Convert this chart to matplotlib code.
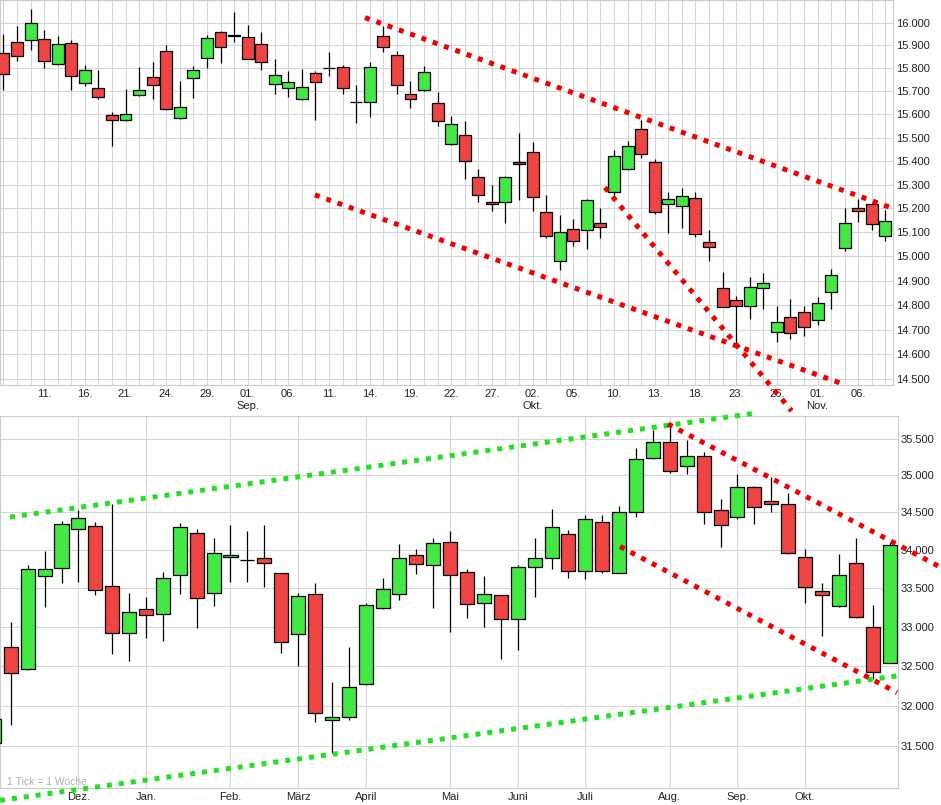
import numpy as np
import matplotlib
matplotlib.use("Agg")
import matplotlib.pyplot as plt
from matplotlib.ticker import FixedLocator, NullLocator, FuncFormatter

plt.rcParams['font.family'] = ['Liberation Sans', 'DejaVu Sans']

GREEN = '#44e844'
RED = '#ee4444'
GRID = '#d6d6d6'
TREND_RED = '#f20000'
TREND_GREEN = '#22e022'

# ---- daily candles (upper panel), one per trading day ----
day_open = [15867, 15914, 15922, 15928, 15820, 15910, 15737, 15714, 15597, 15576,
            15682, 15761, 15877, 15584, 15757, 15845, 15959, 15939, 15937, 15906,
            15732, 15714, 15664, 15779, 15800, 15805, 15651, 15653, 15943, 15859,
            15688, 15703, 15649, 15473, 15511, 15332, 15226, 15226, 15396, 15439,
            15185, 14979, 15113, 15108, 15141, 15271, 15366, 15537, 15398, 15220,
            15211, 15244, 15059, 14869, 14821, 14797, 14869, 14692, 14753, 14771,
            14738, 14853, 15034, 15201, 15220, 15085]
day_high = [15950, 15987, 16062, 15966, 15940, 15925, 15815, 15793, 15612, 15709,
            15804, 15826, 15900, 15743, 15808, 15947, 15961, 16045, 15988, 15959,
            15842, 15786, 15798, 15786, 15872, 15815, 15728, 15828, 15987, 15874,
            15746, 15811, 15696, 15594, 15573, 15365, 15299, 15336, 15519, 15480,
            15257, 15172, 15155, 15240, 15201, 15448, 15487, 15574, 15408, 15271,
            15285, 15271, 15108, 14937, 14837, 14916, 14933, 14797, 14824, 14797,
            14831, 14948, 15203, 15239, 15223, 15192]
day_low = [15703, 15830, 15878, 15801, 15815, 15703, 15724, 15664, 15466, 15570,
           15678, 15668, 15617, 15580, 15671, 15801, 15823, 15913, 15838, 15793,
           15689, 15674, 15662, 15574, 15767, 15689, 15563, 15588, 15872, 15689,
           15627, 15699, 15548, 15470, 15325, 15226, 15191, 15138, 15236, 15191,
           15076, 14944, 15044, 15032, 15076, 15249, 15360, 15413, 15177, 15099,
           15118, 15079, 14982, 14792, 14645, 14745, 14784, 14651, 14661, 14676,
           14718, 14783, 15024, 15144, 15108, 15066]
day_close = [15776, 15852, 15999, 15830, 15906, 15764, 15790, 15676, 15577, 15601,
             15706, 15727, 15623, 15632, 15793, 15933, 15893, 15947, 15841, 15828,
             15770, 15740, 15719, 15740, 15800, 15714, 15651, 15805, 15893, 15726,
             15667, 15784, 15570, 15558, 15402, 15256, 15218, 15331, 15387, 15250,
             15083, 15101, 15066, 15236, 15123, 15422, 15463, 15428, 15184, 15239,
             15252, 15093, 15041, 14793, 14797, 14875, 14890, 14730, 14685, 14711,
             14807, 14924, 15141, 15189, 15133, 15149]
day_labels = ['11.', '16.', '21.', '24.', '29.', '01.\nSep.', '06.', '11.', '14.', '19.',
              '22.', '27.', '02.\nOkt.', '05.', '10.', '13.', '18.', '23.', '26.',
              '01.\nNov.', '06.']
day_label_pos = list(range(3, 66, 3))
day_yticks = list(range(14500, 16001, 100))

# trend lines: (start index, start value, end index, end value)
day_trends = [(26.65, 16022, 65.56, 15200),
              (22.96, 15257, 61.87, 14481),
              (44.33, 15288, 58.09, 14374)]

# ---- weekly candles (lower panel), first one only partly visible ----
week_open = [31540, 32742, 32453, 33660, 33757, 34281, 34321, 33525, 32911, 33222,
             33157, 33669, 34220, 33430, 33900, 33865, 33888, 33690, 32898, 33421,
             31816, 31862, 32264, 33234, 33417, 33930, 33796, 34108, 33712, 33304,
             33404, 33092, 33770, 33889, 34210, 33720, 34370, 33700, 34500, 35236,
             35463, 35130, 35271, 34531, 34433, 34837, 34650, 34610, 33900, 33456,
             33265, 33822, 32990, 32529]
week_high = [31840, 33062, 33800, 33988, 34380, 34535, 34375, 34610, 33437, 33376,
             33705, 34354, 34273, 34163, 34331, 34255, 34331, 33700, 33430, 33567,
             32296, 32741, 33300, 33634, 34074, 34010, 34162, 34250, 33744, 33659,
             33404, 33803, 34156, 34550, 34264, 34467, 34467, 34590, 35372, 35626,
             35718, 35486, 35326, 34680, 35021, 34850, 34980, 34760, 34006, 33560,
             33943, 34154, 33275, 34108]
week_low = [31540, 31758, 32445, 33256, 33560, 33580, 33408, 32648, 32562, 32848,
            32818, 33421, 32977, 33265, 33580, 33580, 33516, 32657, 32499, 31789,
            31410, 31816, 32260, 33225, 33343, 33677, 33234, 32935, 33104, 32998,
            32584, 32700, 33380, 33744, 33625, 33620, 33700, 33690, 34433, 35220,
            35030, 35017, 34350, 34033, 34410, 34340, 34510, 33945, 33304, 32877,
            33252, 33110, 32327, 32529]
week_close = [31830, 32403, 33744, 33744, 34345, 34425, 33473, 32911, 33190, 33148,
              33626, 34300, 33365, 33962, 33930, 33865, 33822, 32805, 33394, 31903,
              31857, 32226, 33275, 33482, 33888, 33809, 34095, 33664, 33297, 33417,
              33092, 33770, 33889, 34302, 33717, 34413, 33720, 34500, 35220, 35455,
              35060, 35271, 34500, 34337, 34837, 34577, 34610, 33955, 33508, 33404,
              33668, 33118, 32416, 34064]
month_labels = ['Dez.', 'Jan.', 'Feb.', 'März', 'April', 'Mai', 'Juni', 'Juli', 'Aug.', 'Sep.', 'Okt.']
month_pos = [4, 8, 13, 17, 21, 26, 30, 34, 39, 43, 47]
week_yticks = list(range(31500, 35501, 500))

week_trends_green = [(-0.05, 34437, 43.86, 35853),
                     (-0.64, 30839, 52.49, 32373)]
week_trends_red = [(38.89, 35708, 55.04, 33769),
                   (36.05, 34044, 52.44, 32162)]


def thousands(v, _pos=None):
    return f"{v:,.0f}".replace(',', '.')


def draw_candles(ax, xs, opens, highs, lows, closes, width):
    opens = np.asarray(opens, float)
    closes = np.asarray(closes, float)
    colors = np.where(closes >= opens, GREEN, RED)
    ax.vlines(xs, lows, highs, color='black', linewidth=0.9, zorder=2)
    ax.bar(xs, np.abs(closes - opens), width, bottom=np.minimum(opens, closes),
           color=colors, edgecolor='black', linewidth=0.9, zorder=3)


def draw_trends(ax, trends, color):
    for x0, y0, x1, y1 in trends:
        ax.plot([x0, x1], [y0, y1], color=color, linewidth=3.6,
                linestyle=(0, (1, 1.4)), dash_capstyle='butt',
                solid_capstyle='butt', zorder=5, clip_on=False)


def style_axis(ax, yticks):
    ax.set_yscale('log')
    ax.yaxis.tick_right()
    ax.yaxis.set_major_locator(FixedLocator(yticks))
    ax.yaxis.set_major_formatter(FuncFormatter(thousands))
    ax.yaxis.set_minor_locator(NullLocator())
    ax.tick_params(axis='both', which='both', length=0, labelsize=8, colors='#222222')
    ax.tick_params(axis='y', pad=2)
    ax.tick_params(axis='x', pad=3)
    for sp in ax.spines.values():
        sp.set_color('#cccccc')
        sp.set_linewidth(0.8)
    ax.set_axisbelow(True)


fig = plt.figure(figsize=(9.41, 8.05), dpi=100)

# upper panel
ax1 = fig.add_axes([0 / 941, 420 / 805, 893 / 941, 385 / 805])
xd = np.arange(len(day_open))
draw_candles(ax1, xd, day_open, day_high, day_low, day_close, 0.88)
style_axis(ax1, day_yticks)
ax1.set_xlim(-0.25, 65.56)
ax1.set_ylim(14477, 16100)
ax1.set_xticks(day_label_pos)
ax1.set_xticklabels(day_labels)
ax1.xaxis.set_minor_locator(FixedLocator(xd))
ax1.grid(True, which='both', axis='x', color=GRID, linewidth=0.8)
ax1.grid(True, which='major', axis='y', color=GRID, linewidth=0.8)
draw_trends(ax1, day_trends, TREND_RED)

# lower panel
ax2 = fig.add_axes([0 / 941, 17 / 805, 898 / 941, 372 / 805])
xw = np.arange(len(week_open)) - 1
draw_candles(ax2, xw, week_open, week_high, week_low, week_close, 0.83)
style_axis(ax2, week_yticks)
ax2.set_xlim(-0.64, 52.5)
ax2.set_ylim(30988, 35820)
ax2.set_xticks(month_pos)
ax2.set_xticklabels(month_labels)
ax2.grid(True, which='major', color=GRID, linewidth=0.8)
draw_trends(ax2, week_trends_green, TREND_GREEN)
draw_trends(ax2, week_trends_red, TREND_RED)
ax2.text(0.008, 0.016, '1 Tick = 1 Woche', transform=ax2.transAxes,
         fontsize=7.5, color='#b0b0b0', va='center', ha='left', zorder=1)

fig.savefig('out.png', dpi=100)
